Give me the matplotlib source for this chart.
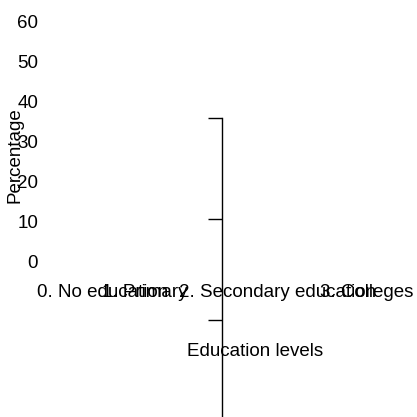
import matplotlib
matplotlib.use("Agg")
import matplotlib.pyplot as plt

# ---- data ----
categories = ["0. No education", "1. Primary", "2. Secondary education", "3. Colleges"]
y_ticks = [0, 10, 20, 30, 40, 50, 60]
x_label = "Education levels"
y_label = "Percentage"

plt.rcParams['font.family'] = ['Liberation Sans', 'DejaVu Sans']

W = H = 417
fig = plt.figure(figsize=(W / 100, H / 100), dpi=100)
fig.patch.set_facecolor('white')

def fx(px):
    return px / W

def fy(py):
    return 1 - py / H

# main (empty) axes: value 0 at y=262px, 60 at y=21px
ax_left, ax_right = 45, 417
ax_top, ax_bot = 21, 262
ax = fig.add_axes([fx(ax_left), fy(ax_bot), fx(ax_right - ax_left), (ax_bot - ax_top) / H])
ax.set_ylim(0, 60)
ax.set_xlim(0, 4)
ax.patch.set_visible(False)
for s in ax.spines.values():
    s.set_visible(False)

# label centres (layout positions of the category labels on the x scale)
label_pos = [(c - ax_left) / (ax_right - ax_left) * 4 for c in (102.5, 145, 277.5, 366.5)]
ax.set_xticks(label_pos)
ax.set_xticklabels(categories)
ax.set_yticks(y_ticks)
ax.set_yticklabels([str(v) for v in y_ticks])
ax.tick_params(axis='both', length=0, labelsize=13.5, colors='black')
ax.tick_params(axis='y', pad=5)
ax.tick_params(axis='x', pad=16)

ax.set_ylabel(y_label, fontsize=13.5, va='center', ha='center')
ax.yaxis.set_label_coords(fx(15), fy(155), transform=fig.transFigure)
ax.set_xlabel(x_label, fontsize=13.5, va='center', ha='center')
ax.xaxis.set_label_coords(fx(255), fy(351), transform=fig.transFigure)

# stray vertical axis line with left-pointing ticks
ax2 = fig.add_axes([fx(222), fy(421), 0.02, (421 - 118) / H])
ax2.set_ylim(0, 3)
ax2.set_yticks([0, 1, 2, 3])
ax2.set_yticklabels([])
ax2.set_xticks([])
ax2.patch.set_visible(False)
for k in ('top', 'right', 'bottom'):
    ax2.spines[k].set_visible(False)
ax2.spines['left'].set_linewidth(1.0)
ax2.tick_params(axis='y', direction='out', length=10.4, width=1.0)

fig.savefig("out.png", dpi=100, facecolor='white')
